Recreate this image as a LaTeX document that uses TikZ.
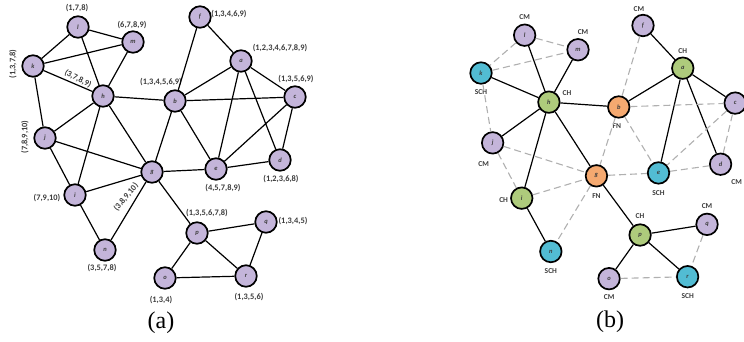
\documentclass[tikz,border=0pt]{standalone}
\usepackage{fontspec}
\setmainfont{Liberation Serif}
\setsansfont{Carlito}
\usetikzlibrary{positioning}
\definecolor{cmpurple}{HTML}{C4B5DA}
\definecolor{chgreen}{HTML}{AECB7C}
\definecolor{fnorange}{HTML}{F5A970}
\definecolor{schcyan}{HTML}{52BCD3}
\definecolor{weakgray}{HTML}{B0B0B0}
\definecolor{tagtext}{HTML}{3C3C3C}

\begin{document}
\begin{tikzpicture}[x=1pt,y=-1pt,
  vertex/.style={draw, circle, line width=1.7pt, minimum size=21.5pt, inner sep=0pt, fill=cmpurple, text=tagtext, font=\sffamily\bfseries\itshape\fontsize{6.5}{7}\selectfont},
  chnode/.style={vertex, fill=chgreen},
  fnnode/.style={vertex, fill=fnorange},
  schnode/.style={vertex, fill=schcyan},
  settag/.style={inner sep=0.5pt, text=tagtext, font=\sffamily\bfseries\fontsize{8.4}{9}\selectfont},
  roletag/.style={inner sep=0.5pt, text=tagtext, font=\sffamily\bfseries\fontsize{7.5}{8}\selectfont},
  link/.style={line width=1.2pt},
  weak/.style={line width=1.1pt, weakgray, dash pattern=on 7pt off 4pt}]
\useasboundingbox (0,0) rectangle (744,341);

% (a) nodes with their sets
\node[vertex] (l1) at (78,27) {l};
\node[vertex] (m1) at (133,42) {m};
\node[vertex] (k1) at (33,66) {k};
\node[vertex] (h1) at (103,96) {h};
\node[vertex] (b1) at (175,101) {b};
\node[vertex] (j1) at (45,138) {j};
\node[vertex] (f1) at (200,17) {f};
\node[vertex] (a1) at (241,61) {a};
\node[vertex] (c1) at (295,97) {c};
\node[vertex] (d1) at (280,160) {d};
\node[vertex] (e1) at (216,169) {e};
\node[vertex] (g1) at (152,172) {g};
\node[vertex] (i1) at (75,195) {i};
\node[vertex] (n1) at (105,250) {n};
\node[vertex] (o1) at (165,278) {o};
\node[vertex] (p1) at (197,233) {p};
\node[vertex] (q1) at (266,222) {q};
\node[vertex] (r1) at (246,276) {r};

\node[settag] (l1set) at (77,8) {(1,7,8)};
\node[settag] (m1set) at (132,25) {(6,7,8,9)};
\node[settag, rotate=90] (k1set) at (13,64) {(1,3,7,8)};
\node[settag, rotate=-27] (h1set) at (78,79) {(3,7,8,9)};
\node[settag] (b1set) at (161,82) {(1,3,4,5,6,9)};
\node[settag, rotate=90] (j1set) at (25,137) {(7,8,9,10)};
\node[settag] (f1set) at (229,14) {(1,3,4,6,9)};
\node[settag] (a1set) at (280,48) {(1,2,3,4,6,7,8,9)};
\node[settag] (c1set) at (296,79) {(1,3,5,6,9)};
\node[settag] (d1set) at (281,179) {(1,2,3,6,8)};
\node[settag] (e1set) at (223,188) {(4,5,7,8,9)};
\node[settag, rotate=50] (g1set) at (126,197) {(3,8,9,10)};
\node[settag] (i1set) at (47,198) {(7,9,10)};
\node[settag] (n1set) at (102,268) {(3,5,7,8)};
\node[settag] (o1set) at (161,300) {(1,3,4)};
\node[settag] (p1set) at (207,213) {(1,3,5,6,7,8)};
\node[settag] (q1set) at (293,221) {(1,3,4,5)};
\node[settag] (r1set) at (249,297) {(1,3,5,6)};

\draw[link] (l1) -- (k1) (l1) -- (m1) (l1) -- (h1) (m1) -- (k1) (m1) -- (h1)
  (k1) -- (h1) (k1) -- (j1) (h1) -- (b1) (h1) -- (j1) (h1) -- (i1) (h1) -- (g1)
  (j1) -- (g1) (j1) -- (i1) (i1) -- (g1) (i1) -- (n1) (g1) -- (n1) (g1) -- (b1)
  (g1) -- (e1) (g1) -- (p1) (b1) -- (f1) (b1) -- (a1) (b1) -- (c1) (b1) -- (e1)
  (f1) -- (a1) (a1) -- (c1) (a1) -- (e1) (a1) -- (d1) (c1) -- (e1) (c1) -- (d1)
  (e1) -- (d1) (p1) -- (q1) (p1) -- (o1) (p1) -- (r1) (q1) -- (r1) (o1) -- (r1);

\node[font=\fontsize{24}{26}\selectfont] (capa) at (161,323) {(a)};

% (b) roles
\begin{scope}[shift={(449,9)}, scale=0.97]
\node[vertex] (l2) at (78,27) {l};
\node[vertex] (m2) at (133,42) {m};
\node[schnode] (k2) at (33,66) {k};
\node[chnode] (h2) at (103,96) {h};
\node[fnnode] (b2) at (175,101) {b};
\node[vertex] (j2) at (45,138) {j};
\node[vertex] (f2) at (200,17) {f};
\node[chnode] (a2) at (241,61) {a};
\node[vertex] (c2) at (295,97) {c};
\node[vertex] (d2) at (280,160) {d};
\node[schnode] (e2) at (216,169) {e};
\node[fnnode] (g2) at (152,172) {g};
\node[chnode] (i2) at (75,195) {i};
\node[schnode] (n2) at (105,250) {n};
\node[vertex] (o2) at (165,278) {o};
\node[chnode] (p2) at (197,233) {p};
\node[vertex] (q2) at (266,222) {q};
\node[schnode] (r2) at (246,276) {r};
\end{scope}

\node[roletag, above=3pt of l2] (l2role) {CM};
\node[roletag, above=3pt of m2, xshift=5pt] (m2role) {CM};
\node[roletag, below=4pt of k2] (k2role) {SCH};
\node[roletag, right=1.5pt of h2, yshift=9pt] (h2role) {CH};
\node[roletag, below=6pt of j2, xshift=-9pt] (j2role) {CM};
\node[roletag, left=1.5pt of i2, yshift=-2pt] (i2role) {CH};
\node[roletag, below=5pt of n2] (n2role) {SCH};
\node[roletag, below=5pt of g2] (g2role) {FN};
\node[roletag, below=4.5pt of b2, xshift=-2pt] (b2role) {FN};
\node[roletag, above=2pt of f2, xshift=-4pt] (f2role) {CM};
\node[roletag, above=2pt of a2] (a2role) {CH};
\node[roletag, below=3pt of d2, xshift=16pt] (d2role) {CM};
\node[roletag, below=5pt of e2] (e2role) {SCH};
\node[roletag, above=4pt of p2] (p2role) {CH};
\node[roletag, above=3pt of q2] (q2role) {CM};
\node[roletag, below=4pt of o2] (o2role) {CM};
\node[roletag, below=5pt of r2] (r2role) {SCH};

\draw[link] (h2) -- (l2) (h2) -- (m2) (h2) -- (k2) (h2) -- (b2) (h2) -- (j2)
  (h2) -- (i2) (h2) -- (g2) (i2) -- (n2) (b2) -- (a2) (f2) -- (a2) (a2) -- (c2)
  (a2) -- (e2) (a2) -- (d2) (g2) -- (p2) (p2) -- (q2) (p2) -- (o2) (p2) -- (r2);
\draw[weak] (l2) -- (k2) (l2) -- (m2) (k2) -- (m2) (k2) -- (j2) (j2) -- (g2)
  (j2) -- (i2) (i2) -- (g2) (g2) -- (n2) (b2) -- (f2) (b2) -- (c2) (b2) -- (e2)
  (b2) -- (g2) (c2) -- (e2) (c2) -- (d2) (e2) -- (d2) (g2) -- (e2) (q2) -- (r2)
  (o2) -- (r2);

\node[font=\fontsize{24}{26}\selectfont] (capb) at (610,322) {(b)};
\end{tikzpicture}
\end{document}
